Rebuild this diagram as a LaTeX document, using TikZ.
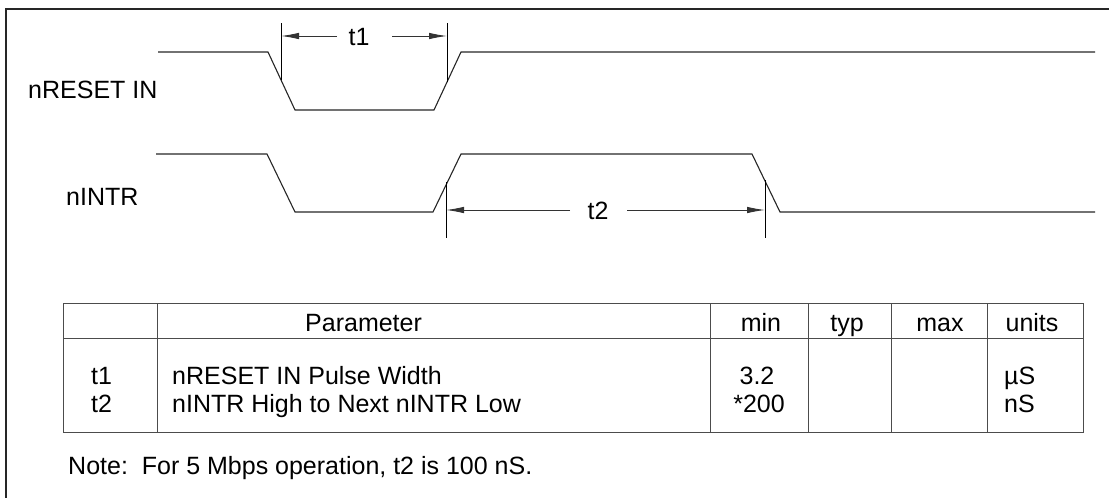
\documentclass[tikz,border=0pt]{standalone}
\usepackage{fontspec}
\setmainfont{Liberation Sans}
\usetikzlibrary{arrows.meta}
\begin{document}
\begin{tikzpicture}[x=1pt,y=-1pt,
  wave/.style={line width=1.1pt, black!85},
  dimline/.style={line width=0.9pt, black},
  dimarrow/.style={line width=0.9pt, black!80, -{Latex[length=18pt,width=6.5pt]}},
  gridline/.style={line width=1pt, black!70},
  frameline/.style={line width=2pt, black!85},
  txt/.style={font=\fontsize{25}{29}\selectfont, inner sep=0pt},
  lbl/.style={txt, anchor=base west},
  ctr/.style={txt, anchor=base},
]
\useasboundingbox (0,0) rectangle (1109,498);

% outer frame (only top and left edges visible)
\coordinate (fTL) at (6,9);
\coordinate (fTR) at (1109,9);
\coordinate (fBL) at (6,498);
\draw[frameline] (fBL) -- (fTL) -- (fTR);

% signal labels
\node[lbl] (lreset) at (28,98) {nRESET IN};
\node[lbl] (lintr) at (66,205) {nINTR};

% nRESET IN waveform
\coordinate (r0) at (158,52);
\coordinate (r1) at (268,52);
\coordinate (r2) at (295,110);
\coordinate (r3) at (434,110);
\coordinate (r4) at (461,52);
\coordinate (r5) at (1095,52);
\draw[wave] (r0) -- (r1) -- (r2) -- (r3) -- (r4) -- (r5);

% nINTR waveform
\coordinate (i0) at (156,154);
\coordinate (i1) at (267,154);
\coordinate (i2) at (295,212);
\coordinate (i3) at (433,212);
\coordinate (i4) at (461,154);
\coordinate (i5) at (752,154);
\coordinate (i6) at (780,212);
\coordinate (i7) at (1095,212);
\draw[wave] (i0) -- (i1) -- (i2) -- (i3) -- (i4) -- (i5) -- (i6) -- (i7);

% t1 dimension
\coordinate (t1aT) at (281,23);
\coordinate (t1aB) at (281,80);
\coordinate (t1bT) at (447,23);
\coordinate (t1bB) at (447,82);
\draw[dimline] (t1aT) -- (t1aB);
\draw[dimline] (t1bT) -- (t1bB);
\coordinate (t1aM) at (281,36);
\coordinate (t1bM) at (447,36);
\node[ctr] (t1) at (359,45) {t1};
\coordinate (t1gl) at (337,36);
\coordinate (t1gr) at (392,36);
\draw[dimarrow] (t1gl) -- (t1aM);
\draw[dimarrow] (t1gr) -- (t1bM);

% t2 dimension
\coordinate (t2aT) at (446,182);
\coordinate (t2aB) at (446,238);
\coordinate (t2bT) at (765,180);
\coordinate (t2bB) at (765,238);
\draw[dimline] (t2aT) -- (t2aB);
\draw[dimline] (t2bT) -- (t2bB);
\coordinate (t2aM) at (446,210);
\coordinate (t2bM) at (765,210);
\node[ctr] (t2) at (598,219) {t2};
\coordinate (t2gl) at (570,210);
\coordinate (t2gr) at (627,210);
\draw[dimarrow] (t2gl) -- (t2aM);
\draw[dimarrow] (t2gr) -- (t2bM);

% table
\draw[gridline] (63,303) rectangle (1083,432);
\draw[gridline] (63,338) -- (1083,338);
\foreach \cx in {157,710,808,891,987}
  \draw[gridline] (\cx,303) -- (\cx,432);

\node[lbl] (hpar) at (305,331) {Parameter};
\node[ctr] (hmin) at (761,331) {min};
\node[ctr] (htyp) at (847,331) {typ};
\node[ctr] (hmax) at (940,331) {max};
\node[ctr] (hunit) at (1032,331) {units};

\node[lbl] (r1s) at (91,384) {t1};
\node[lbl] (r1p) at (172,384) {nRESET IN Pulse Width};
\node[ctr] (r1m) at (757,384) {3.2};
\node[lbl] (r1u) at (1004,384) {µS};

\node[lbl] (r2s) at (91,412) {t2};
\node[lbl] (r2p) at (172,412) {nINTR High to Next nINTR Low};
\node[ctr] (r2m) at (759,412) {*200};
\node[lbl] (r2u) at (1004,412) {nS};

\node[lbl] (note) at (68,474) {Note:\ \ For 5 Mbps operation, t2 is 100 nS.};
\end{tikzpicture}
\end{document}
